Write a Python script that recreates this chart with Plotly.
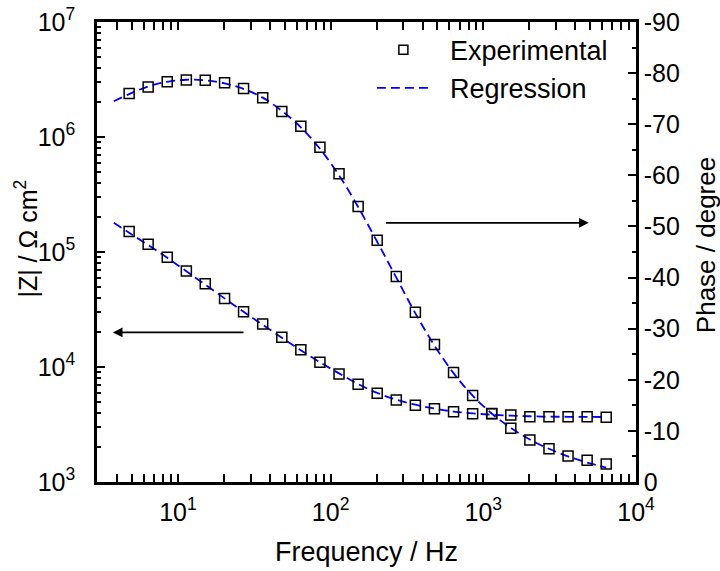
import numpy as np
import plotly.graph_objects as go

freq = [4.79, 6.38, 8.51, 11.35, 15.1, 20.2, 26.9, 35.9, 47.9, 63.8, 85.1, 113.5, 151.4,
        201.8, 269.2, 358.9, 478.6, 638.3, 851.1, 1135, 1514, 2018, 2692, 3589, 4786, 6383]
z_exp = [1.51e5, 1.17e5, 9.0e4, 6.84e4, 5.3e4, 3.95e4, 3.03e4, 2.37e4, 1.81e4, 1.41e4, 1.10e4,
         8.7e3, 7.08e3, 5.9e3, 5.16e3, 4.65e3, 4.34e3, 4.08e3, 3.92e3, 3.92e3, 3.83e3, 3.70e3,
         3.70e3, 3.70e3, 3.70e3, 3.66e3]
phase_exp = [-76.0, -77.3, -78.3, -78.65, -78.6, -78.1, -77.0, -75.2, -72.5, -69.6, -65.5,
             -60.3, -53.9, -47.3, -40.2, -33.2, -26.9, -21.4, -16.9, -13.4, -10.5, -8.2,
             -6.5, -5.1, -4.25, -3.5]

# Regression
freq_fit = [3.8, 4.79, 6.38, 8.51, 11.35, 15.1, 20.2, 26.9, 35.9, 47.9, 63.8, 85.1, 113.5, 151.4,
            201.8, 269.2, 358.9, 478.6, 638.3, 851.1, 1135, 1514, 2018, 2692, 3589, 4786, 6383]
z_fit = [1.80e5, 1.47e5, 1.15e5, 8.9e4, 6.8e4, 5.2e4, 3.95e4, 3.02e4, 2.33e4, 1.80e4, 1.40e4,
         1.10e4, 8.8e3, 7.1e3, 5.95e3, 5.2e3, 4.7e3, 4.35e3, 4.1e3, 3.95e3, 3.85e3, 3.78e3,
         3.73e3, 3.70e3, 3.69e3, 3.68e3, 3.67e3]
phase_fit = [-74.5, -75.9, -77.4, -78.3, -78.7, -78.6, -78.0, -76.9, -75.2, -72.6, -69.4, -65.2,
             -60.0, -53.8, -47.0, -40.0, -33.0, -26.7, -21.3, -16.9, -13.4, -10.6, -8.3, -6.5,
             -5.0, -3.8, -2.8]

# Ticks
x_ticks = [10, 100, 1000, 10000]
x_ticktext = ["10<sup>1</sup>", "10<sup>2</sup>", "10<sup>3</sup>", "10<sup>4</sup>"]
z_ticks = [1e3, 1e4, 1e5, 1e6, 1e7]
z_ticktext = ["10<sup>3</sup>", "10<sup>4</sup>", "10<sup>5</sup>", "10<sup>6</sup>", "10<sup>7</sup>"]
phase_ticks = [0, -10, -20, -30, -40, -50, -60, -70, -80, -90]
phase_ticktext = ["0", "-10", "-20", "-30", "-40", "-50", "-60", "-70", "-80", "-90"]

x_minor = [m * 10 ** d for d in range(0, 4) for m in range(2, 10) if m * 10 ** d > 3]
z_minor = [m * 10 ** d for d in range(3, 7) for m in range(2, 10)]

FONT = "Liberation Sans, Arial, sans-serif"
BLUE = "#0000FF"
DASH = "9px,5px"
marker_style = dict(symbol="square-open", size=10, color="black", line=dict(color="black", width=1.5))

fig = go.Figure()

# |Z|
fig.add_trace(go.Scatter(
    x=freq_fit, y=z_fit, mode="lines", line=dict(color=BLUE, width=1.8, dash=DASH, shape="spline"),
    name="Regression", showlegend=False, yaxis="y"))
fig.add_trace(go.Scatter(
    x=freq, y=z_exp, mode="markers", marker=marker_style,
    name="Experimental", showlegend=False, yaxis="y"))

# phase
fig.add_trace(go.Scatter(
    x=freq_fit, y=phase_fit, mode="lines", line=dict(color=BLUE, width=1.8, dash=DASH, shape="spline"),
    name="Regression", showlegend=False, yaxis="y2"))
fig.add_trace(go.Scatter(
    x=freq, y=phase_exp, mode="markers", marker=marker_style,
    name="Experimental", showlegend=False, yaxis="y2"))

# legende
fig.add_trace(go.Scatter(
    x=[None], y=[None], mode="markers", marker=dict(marker_style, size=9),
    name="\u00a0\u00a0Experimental", yaxis="y"))
fig.add_trace(go.Scatter(
    x=[None], y=[None], mode="lines", line=dict(color=BLUE, width=1.8, dash=DASH),
    name="\u00a0\u00a0Regression", yaxis="y"))

axis_common = dict(
    showgrid=False, zeroline=False, showline=True, linecolor="black", linewidth=2.5,
    ticks="inside", ticklen=8, tickwidth=2, tickcolor="black", automargin=False,
    ticklabeloverflow="allow",
    tickfont=dict(family=FONT, size=25, color="black"),
)

fig.update_layout(
    width=720, height=571,
    margin=dict(l=97, r=84, t=22, b=89),
    plot_bgcolor="white", paper_bgcolor="white",
    font=dict(family=FONT, color="black"),
    xaxis=dict(
        type="log", range=[np.log10(2.95), 4],
        tickvals=x_ticks, ticktext=x_ticktext, mirror="allticks",
        minor=dict(tickvals=x_minor, ticks="inside", ticklen=4, tickwidth=2, tickcolor="black"),
        ticklabelstandoff=6,
        **axis_common),
    yaxis=dict(
        type="log", range=[3, 7],
        tickvals=z_ticks, ticktext=z_ticktext, mirror=False,
        minor=dict(tickvals=z_minor, ticks="inside", ticklen=4, tickwidth=2, tickcolor="black"),
        ticklabelstandoff=14,
        **axis_common),
    yaxis2=dict(
        overlaying="y", side="right", range=[0, -90],
        tickvals=phase_ticks, ticktext=phase_ticktext,
        minor=dict(dtick=5, ticks="inside", ticklen=4, tickwidth=2, tickcolor="black"),
        ticklabelstandoff=0,
        **axis_common),
    legend=dict(
        x=0.51, y=0.992, xanchor="left", yanchor="top",
        font=dict(family=FONT, size=27, color="black"),
        bgcolor="rgba(0,0,0,0)", itemwidth=53, tracegroupgap=0,
    ),
    annotations=[
        dict(x=np.log10(3.75), y=np.log10(2e4), ax=np.log10(27.5), ay=np.log10(2e4),
             xref="x", yref="y", axref="x", ayref="y", text="", showarrow=True,
             arrowhead=2, arrowsize=1.2, arrowwidth=1.6, arrowcolor="black"),
        dict(x=np.log10(4900), y=-50.7, ax=np.log10(225), ay=-50.7,
             xref="x", yref="y2", axref="x", ayref="y2", text="", showarrow=True,
             arrowhead=2, arrowsize=1.2, arrowwidth=1.6, arrowcolor="black"),
        # titres des axes
        dict(x=0.5, y=-0.152, xref="paper", yref="paper", xanchor="center", yanchor="middle",
             text="Frequency / Hz", showarrow=False, font=dict(family=FONT, size=27, color="black")),
        dict(x=-0.131, y=0.53, xref="paper", yref="paper", xanchor="center", yanchor="middle",
             text="|Z| / \u03a9 cm<sup>2</sup>", textangle=-90, showarrow=False,
             font=dict(family=FONT, size=25, color="black")),
        dict(x=1.13, y=0.515, xref="paper", yref="paper", xanchor="center", yanchor="middle",
             text="Phase / degree", textangle=-90, showarrow=False,
             font=dict(family=FONT, size=26, color="black")),
    ],
)

# pas de marge autour du graphique dans la page, pas de barre d'outils
fig.write_html("out.html", config={"displayModeBar": False},
               post_script="document.body.style.margin = '0px';")
